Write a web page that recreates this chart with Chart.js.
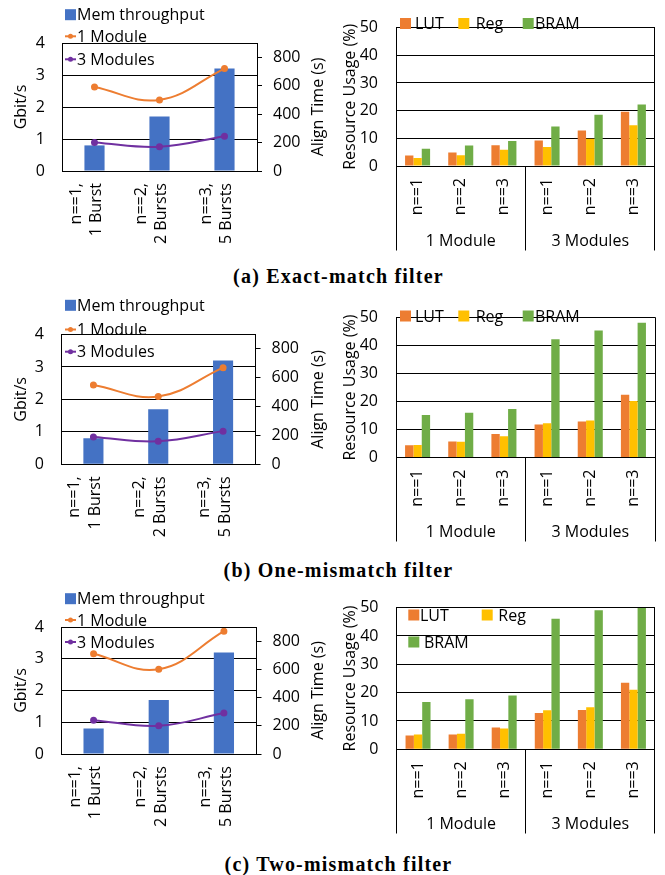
<!DOCTYPE html>
<html><head><meta charset="utf-8">
<script src="https://cdn.jsdelivr.net/npm/chart.js@4.4.1/dist/chart.umd.min.js"></script>
<style>
html,body{margin:0;padding:0;background:#fff}
body{width:665px;height:875px;position:relative;overflow:hidden}
canvas{position:absolute}
.cap{position:absolute;left:6px;width:665px;text-align:center;font-family:"Liberation Serif",serif;font-weight:bold;font-size:20px;letter-spacing:1.2px;line-height:22px;color:#000}
</style></head><body>
<canvas id="la" width="330" height="260" style="left:0;top:0"></canvas>
<canvas id="ra" width="335" height="260" style="left:330px;top:0"></canvas>
<div class="cap" style="top:265px">(a) Exact-match filter</div>
<canvas id="lb" width="330" height="260" style="left:0;top:290px"></canvas>
<canvas id="rb" width="335" height="260" style="left:330px;top:290px"></canvas>
<div class="cap" style="top:559px">(b) One-mismatch filter</div>
<canvas id="lc" width="330" height="260" style="left:0;top:580px"></canvas>
<canvas id="rc" width="335" height="260" style="left:330px;top:580px"></canvas>
<div class="cap" style="top:853px">(c) Two-mismatch filter</div>
<script>
// ---------- data ----------
const burstCats = [['n==1,', '1 Burst'], ['n==2,', '2 Bursts'], ['n==3,', '5 Bursts']];
const memThroughput = [0.8, 1.7, 3.2];
const exact1Module = [590, 500, 720];
const exact3Modules = [200, 170, 245];
const one1Module = [550, 470, 670];
const one3Modules = [190, 160, 230];
const two1Module = [710, 600, 870];
const two3Modules = [240, 200, 290];

const resCats = ['n==1', 'n==2', 'n==3', 'n==1', 'n==2', 'n==3'];
const moduleGroups = ['1 Module', '3 Modules'];
const moduleGroupSizes = [3, 3];
const exactLUT = [3.8, 4.9, 7.5, 9.2, 12.8, 19.6];
const exactReg = [2.9, 3.9, 5.9, 6.9, 9.8, 14.7];
const exactBRAM = [6.2, 7.4, 9.0, 14.3, 18.5, 22.2];
const oneLUT = [4.4, 5.7, 8.4, 11.8, 12.9, 22.4];
const oneReg = [4.5, 5.6, 7.6, 12.2, 13.2, 20.2];
const oneBRAM = [15.2, 16.0, 17.3, 42.3, 45.4, 48.2];
const twoLUT = [4.9, 5.2, 7.7, 12.8, 13.9, 23.5];
const twoReg = [5.2, 5.5, 7.3, 13.8, 14.8, 21.0];
const twoBRAM = [16.7, 17.7, 19.0, 46.1, 49.1, 50.0];

// ---------- style ----------
const BLUE = '#4472C4', ORANGE = '#ED7D31', PURPLE = '#7030A0', YELLOW = '#FFC000', GREEN = '#70AD47';
const FONT = {family: '"Open Sans", sans-serif', size: 16};
Chart.defaults.font.family = FONT.family;
Chart.defaults.font.size = 16;
Chart.defaults.color = '#000';

function al(p) { return Math.round(p - 0.5) + 0.5; }

const extras = {
  id: 'extras',
  afterDraw(chart, args, o) {
    const ctx = chart.ctx, a = chart.chartArea;
    ctx.save();
    ctx.strokeStyle = '#000';
    ctx.lineWidth = 1;
    const L = al(a.left), R = al(a.right), T = al(a.top), B = al(a.bottom);
    ctx.beginPath();
    ctx.rect(L, T, R - L, B - T);
    ctx.stroke();
    // multi-level category box
    if (o.groups) {
      const xs = chart.scales.x;
      const bounds = [a.left];
      let idx = 0;
      const centers = [];
      o.groups.sizes.forEach((n, gi) => {
        const first = xs.getPixelForValue(idx), last = xs.getPixelForValue(idx + n - 1);
        centers.push((first + last) / 2);
        idx += n;
        if (gi < o.groups.sizes.length - 1) {
          bounds.push((xs.getPixelForValue(idx - 1) + xs.getPixelForValue(idx)) / 2);
        }
      });
      bounds.push(a.right);
      ctx.beginPath();
      bounds.forEach(b => { ctx.moveTo(al(b), B); ctx.lineTo(al(b), B + o.groups.depth); });
      ctx.stroke();
      ctx.fillStyle = '#000';
      ctx.font = '16px ' + FONT.family;
      ctx.textAlign = 'center';
      ctx.textBaseline = 'middle';
      o.groups.labels.forEach((t, i) => ctx.fillText(t, centers[i], B + o.groups.labelDy));
    }
    // right axis title (reads bottom to top)
    if (o.rightTitle) {
      ctx.save();
      ctx.translate(o.rightTitle.x, (a.top + a.bottom) / 2);
      ctx.rotate(-Math.PI / 2);
      ctx.fillStyle = '#000';
      ctx.font = '16px ' + FONT.family;
      ctx.textAlign = 'center';
      ctx.textBaseline = 'middle';
      ctx.fillText(o.rightTitle.text, 0, 0);
      ctx.restore();
    }
    // legend
    if (o.legend) {
      ctx.font = '16px ' + FONT.family;
      ctx.textAlign = 'left';
      ctx.textBaseline = 'middle';
      chart.data.datasets.forEach((ds, i) => {
        const it = o.legend[i];
        if (!it) return;
        const col = ds.borderColor || ds.backgroundColor;
        if (ds.type === 'line') {
          ctx.strokeStyle = col; ctx.lineWidth = 2;
          ctx.beginPath(); ctx.moveTo(it.x, it.y); ctx.lineTo(it.x + 11, it.y); ctx.stroke();
          ctx.fillStyle = col;
          ctx.beginPath(); ctx.arc(it.x + 5.5, it.y, 2.5, 0, Math.PI * 2); ctx.fill();
        } else {
          ctx.fillStyle = ds.backgroundColor;
          ctx.fillRect(it.x, it.y - 5.5, 11, 11);
        }
        ctx.fillStyle = '#000';
        ctx.fillText(ds.label, it.tx, it.y + 1);
      });
    }
    ctx.restore();
  }
};

function leftChart(id, rowTop, area, line1, line3, legendYs) {
  const cv = document.getElementById(id);
  const H = cv.height, W = cv.width;
  const t = area.top - rowTop, b = area.bottom - rowTop;
  return new Chart(cv, {
    type: 'bar',
    data: {
      labels: burstCats,
      datasets: [
        {type: 'bar', label: 'Mem throughput', data: memThroughput, backgroundColor: BLUE, yAxisID: 'y', order: 2,
         barPercentage: 0.31, categoryPercentage: 1},
        {type: 'line', label: '1 Module', data: line1, borderColor: ORANGE, backgroundColor: ORANGE, yAxisID: 'y2',
         order: 1, tension: 0.4, borderWidth: 2, pointRadius: 2.5, pointHoverRadius: 2.5},
        {type: 'line', label: '3 Modules', data: line3, borderColor: PURPLE, backgroundColor: PURPLE, yAxisID: 'y2',
         order: 1, tension: 0.4, borderWidth: 2, pointRadius: 2.5, pointHoverRadius: 2.5}
      ]
    },
    options: {
      responsive: false, animation: false,
      layout: {padding: {top: t, left: 0, right: 0, bottom: 0}},
      plugins: {
        legend: {display: false}, tooltip: {enabled: false},
        extras: {
          legend: [
            {x: 65, y: legendYs[0], tx: 77},
            {x: 65, y: legendYs[1], tx: 77},
            {x: 65, y: legendYs[2], tx: 77}
          ],
          rightTitle: {text: 'Align Time (s)', x: 318}
        }
      },
      scales: {
        x: {
          grid: {display: false, drawTicks: false},
          border: {display: true, color: '#000'},
          ticks: {minRotation: 90, maxRotation: 90, autoSkip: false, padding: 12, labelOffset: -18.5,
                  font: {size: 16, lineHeight: 1.3}},
          afterFit(s) { s.height = H - b; }
        },
        y: {
          position: 'left', min: 0, max: 4,
          ticks: {stepSize: 1, padding: 17},
          grid: {color: '#000', drawTicks: false},
          border: {color: '#000'},
          title: {display: true, text: 'Gbit/s', padding: {top: 11.4, bottom: 0}},
          afterFit(s) { s.width = area.left; }
        },
        y2: {
          position: 'right', min: 0, max: 900,
          ticks: {stepSize: 200, includeBounds: false, padding: 11},
          grid: {drawOnChartArea: false, tickLength: 5, color: '#000'},
          border: {color: '#000'},
          afterFit(s) { s.width = W - area.right; }
        }
      }
    },
    plugins: [extras]
  });
}

function rightChart(id, rowTop, area, lut, reg, bram, legend) {
  const cv = document.getElementById(id);
  const H = cv.height;
  const t = area.top - rowTop, b = area.bottom - rowTop;
  const common = {categoryPercentage: 0.58, barPercentage: 1};
  return new Chart(cv, {
    type: 'bar',
    data: {
      labels: resCats,
      datasets: [
        Object.assign({label: 'LUT', data: lut, backgroundColor: ORANGE}, common),
        Object.assign({label: 'Reg', data: reg, backgroundColor: YELLOW}, common),
        Object.assign({label: 'BRAM', data: bram, backgroundColor: GREEN}, common)
      ]
    },
    options: {
      responsive: false, animation: false,
      layout: {padding: {top: t, left: 0, right: 665 - area.right, bottom: 0}},
      plugins: {
        legend: {display: false}, tooltip: {enabled: false},
        extras: {
          legend: legend,
          groups: {labels: moduleGroups, sizes: moduleGroupSizes, depth: 84, labelDy: 75}
        }
      },
      scales: {
        x: {
          grid: {display: false, drawTicks: false},
          border: {display: true, color: '#000'},
          ticks: {minRotation: 90, maxRotation: 90, autoSkip: false, padding: 12},
          afterFit(s) { s.height = H - b; }
        },
        y: {
          min: 0, max: 50,
          ticks: {stepSize: 10, padding: 18},
          grid: {color: '#000', drawTicks: false},
          border: {color: '#000'},
          title: {display: true, text: 'Resource Usage (%)', padding: {top: 10.4, bottom: 0}},
          afterFit(s) { s.width = area.left - 330; }
        }
      }
    },
    plugins: [extras]
  });
}

// left: throughput + align time
leftChart('la', 0, {left: 62, right: 257, top: 43, bottom: 171}, exact1Module, exact3Modules, [14.7, 36.3, 59.3]);
leftChart('lb', 290, {left: 61, right: 255.5, top: 334.5, bottom: 464.3}, one1Module, one3Modules, [15.3, 39.5, 61.7]);
leftChart('lc', 580, {left: 61, right: 256.5, top: 627, bottom: 754}, two1Module, two3Modules, [18.7, 40, 62]);

// right: resource usage
const legendRow = y => [{x: 70, y: y, tx: 85}, {x: 128.3, y: y, tx: 145.7}, {x: 192.7, y: y, tx: 205}];
rightChart('ra', 0, {left: 396, right: 660, top: 12.7, bottom: 166}, exactLUT, exactReg, exactBRAM, legendRow(23.5));
rightChart('rb', 290, {left: 396, right: 660.5, top: 304, bottom: 457.5}, oneLUT, oneReg, oneBRAM, legendRow(26));
rightChart('rc', 580, {left: 396.5, right: 660.5, top: 595.7, bottom: 749.3}, twoLUT, twoReg, twoBRAM,
  [{x: 78.3, y: 35, tx: 90}, {x: 151.7, y: 35, tx: 168.3}, {x: 78.3, y: 62, tx: 94}]);
</script>
</body></html>
